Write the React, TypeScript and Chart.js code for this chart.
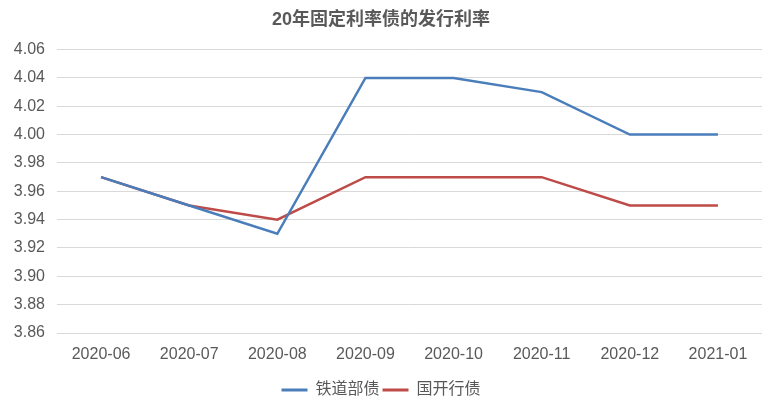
import React, { useEffect, useRef } from "react";
import { Chart, registerables } from "chart.js";

Chart.register(...registerables);

const categories = ["2020-06", "2020-07", "2020-08", "2020-09", "2020-10", "2020-11", "2020-12", "2021-01"];
const railwayBond = [3.97, 3.95, 3.93, 4.04, 4.04, 4.03, 4.0, 4.0];
const cdbBond = [3.97, 3.95, 3.94, 3.97, 3.97, 3.97, 3.95, 3.95];
const seriesNames = ["铁道部债", "国开行债"];
const titleText = "20年固定利率债的发行利率";
const yMin = 3.86;
const yMax = 4.06;
const yStep = 0.02;

const FONT = "'Liberation Sans', 'Noto Sans CJK SC', sans-serif";

export default function App() {
  const ref = useRef<HTMLCanvasElement | null>(null);
  useEffect(() => {
    document.body.style.margin = "0";
    const ctx = ref.current!;
    const chart = new Chart(ctx, {
      type: "line",
      data: {
        labels: categories,
        datasets: [
          {
            label: seriesNames[0],
            data: railwayBond,
            borderColor: "#4a7ebb",
            backgroundColor: "#4a7ebb",
            borderWidth: 2.5,
            pointRadius: 0,
            tension: 0,
          },
          {
            label: seriesNames[1],
            data: cdbBond,
            borderColor: "#be4b48",
            backgroundColor: "#be4b48",
            borderWidth: 2.5,
            pointRadius: 0,
            tension: 0,
          },
        ],
      },
      options: {
        animation: false,
        responsive: false,
        maintainAspectRatio: false,
        layout: { padding: { left: 0, right: 8, top: 0, bottom: 0 } },
        plugins: {
          title: {
            display: true,
            text: titleText,
            color: "#595959",
            font: { family: FONT, size: 18, weight: "bold" },
            padding: { top: 9, bottom: 19 },
          },
          legend: {
            position: "bottom",
            labels: {
              color: "#595959",
              font: { family: FONT, size: 16 },
              boxWidth: 26,
              boxHeight: 3,
              padding: 3,
              generateLabels: (c: any) =>
                Chart.defaults.plugins.legend.labels.generateLabels(c).map((l: any) => ({ ...l, lineWidth: 0 })),
            },
          },
          tooltip: { enabled: false },
        },
        scales: {
          x: {
            offset: true,
            grid: { display: false },
            border: { display: false },
            ticks: {
              color: "#595959",
              font: { family: FONT, size: 16 },
              padding: 4,
              maxRotation: 0,
              autoSkip: false,
            },
            afterFit: (scale: any) => {
              scale.height = 46;
            },
          },
          y: {
            min: yMin,
            max: yMax,
            border: { display: false },
            grid: { color: "#d9d9d9", lineWidth: 1, drawTicks: false },
            ticks: {
              stepSize: yStep,
              color: "#595959",
              font: { family: FONT, size: 16 },
              padding: 12,
              callback: (v: any) => Number(v).toFixed(2),
            },
            afterFit: (scale: any) => {
              scale.width = 57;
            },
          },
        },
      },
    });
    return () => chart.destroy();
  }, []);
  return (
    <div style={{ width: 770, height: 408, background: "#fff" }}>
      <canvas ref={ref} width={770} height={408} style={{ width: 770, height: 408, display: "block" }} />
    </div>
  );
}
